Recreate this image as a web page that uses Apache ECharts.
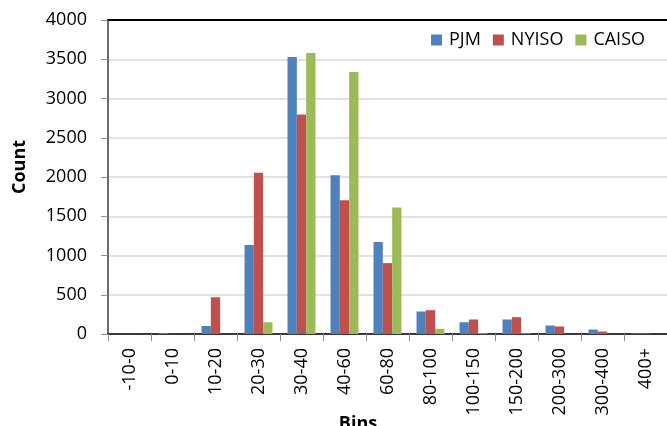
<!DOCTYPE html>
<html>
<head>
<meta charset="utf-8">
<script src="https://cdn.jsdelivr.net/npm/echarts@6/dist/echarts.min.js"></script>
<style>
  html, body { margin: 0; padding: 0; background: #fff; }
  #chart { width: 667px; height: 426px; }
</style>
</head>
<body>
<div id="chart"></div>
<script>
// Price bins and hourly counts per market
const bins = ['-10-0', '0-10', '10-20', '20-30', '30-40', '40-60', '60-80',
              '80-100', '100-150', '150-200', '200-300', '300-400', '400+'];
const pjm   = [2, 12, 102, 1135, 3530, 2022, 1172, 287, 150, 185, 108, 57, 8];
const nyiso = [1, 3, 468, 2055, 2795, 1703, 903, 304, 185, 214, 96, 32, 8];
const caiso = [0, 0, 0, 150, 3580, 3338, 1610, 66, 10, 8, 0, 0, 0];
const yTicks = { min: 0, max: 4000, step: 500 };

const FONT = '"Open Sans", "Noto Sans", sans-serif';
const chart = echarts.init(document.getElementById('chart'), null, { renderer: 'canvas' });

chart.setOption({
  animation: false,
  backgroundColor: '#ffffff',
  color: ['#4f81bd', '#c0504d', '#9bbb59'],
  textStyle: { fontFamily: FONT },
  grid: { left: 108, top: 20, width: 561, height: 314, containLabel: false },
  legend: {
    right: 17, top: 26,
    itemWidth: 11, itemHeight: 11, itemGap: 12,
    icon: 'rect',
    textStyle: { fontFamily: FONT, fontSize: 18, color: '#000', padding: [0, 0, 0, 2] },
    data: ['PJM', 'NYISO', 'CAISO']
  },
  xAxis: [{
    type: 'category',
    data: bins,
    boundaryGap: true,
    axisLine: { show: true, lineStyle: { color: '#000', width: 1.5 } },
    axisTick: { show: true, length: 7, inside: false, alignWithLabel: false, lineStyle: { color: '#8c8c8c', width: 1 } },
    axisLabel: { rotate: 90, interval: 0, margin: 14, fontFamily: FONT, fontSize: 18, color: '#000' },
    splitLine: { show: false }
  }, {
    // top border of the plot area
    type: 'category',
    data: bins,
    position: 'top',
    axisLine: { show: true, lineStyle: { color: '#000', width: 2 } },
    axisTick: { show: false },
    axisLabel: { show: false },
    splitLine: { show: false }
  }],
  yAxis: {
    type: 'value',
    min: yTicks.min, max: yTicks.max, interval: yTicks.step,
    axisLine: { show: true, lineStyle: { color: '#3a3a3a', width: 1.5 } },
    axisTick: { show: true, length: 7, lineStyle: { color: '#8c8c8c' } },
    axisLabel: { margin: 21, fontFamily: FONT, fontSize: 18, color: '#000', formatter: v => String(v) },
    splitLine: { show: true, lineStyle: { color: '#d9d9d9', width: 1.5 } }
  },
  graphic: [{
    type: 'text',
    x: 20, y: 167,
    rotation: Math.PI / 2,
    style: { text: 'Count', fontFamily: FONT, fontSize: 18, fontWeight: 'bold', fill: '#000', align: 'center', verticalAlign: 'middle' }
  }, {
    type: 'text',
    x: 358, y: 424,
    style: { text: 'Bins', fontFamily: FONT, fontSize: 18, fontWeight: 'bold', fill: '#000', align: 'center', verticalAlign: 'middle' }
  }],
  series: [
    { name: 'PJM',   type: 'bar', data: pjm,   barGap: '0%', barCategoryGap: '35%' },
    { name: 'NYISO', type: 'bar', data: nyiso, barGap: '0%', barCategoryGap: '35%' },
    { name: 'CAISO', type: 'bar', data: caiso, barGap: '0%', barCategoryGap: '35%' }
  ]
});
</script>
</body>
</html>
